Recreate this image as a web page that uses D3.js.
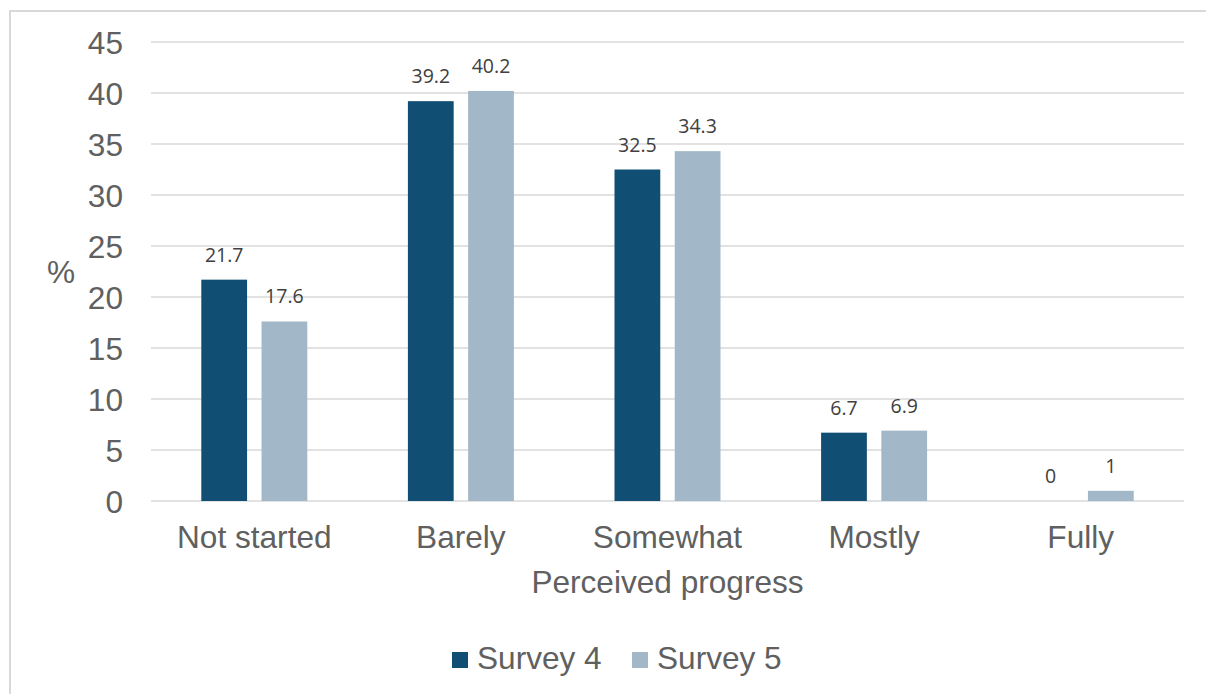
<!DOCTYPE html>
<html>
<head>
<meta charset="utf-8">
<script src="https://cdn.jsdelivr.net/npm/d3@7"></script>
<style>
  html, body { margin: 0; padding: 0; background: #ffffff; }
  svg { display: block; }
</style>
</head>
<body>
<svg id="chart" width="1206" height="694"></svg>
<script>
// Perceived progress by survey round (%)
const categories = ["Not started", "Barely", "Somewhat", "Mostly", "Fully"];
const seriesNames = ["Survey 4", "Survey 5"];
const survey4 = [21.7, 39.2, 32.5, 6.7, 0];
const survey5 = [17.6, 40.2, 34.3, 6.9, 1];
const yTicks = [0, 5, 10, 15, 20, 25, 30, 35, 40, 45];
const colors = ["#114e73", "#a2b8c8"];

const rows = categories.map((c, i) => ({ category: c, values: [survey4[i], survey5[i]] }));

const svg = d3.select("#chart");
const axisFont = "'Liberation Sans', Arial, sans-serif";
const labelFont = "'Open Sans', 'Noto Sans', sans-serif";
const textGray = "#606060";
const axisSize = 31.6;

// outer frame
svg.append("rect")
  .attr("x", 10).attr("y", 11)
  .attr("width", 1220).attr("height", 700)
  .attr("fill", "none").attr("stroke", "#d9d9d9").attr("stroke-width", 2);

const plot = { left: 151, right: 1184, top: 42, bottom: 501 };

const x0 = d3.scaleBand().domain(categories).range([plot.left, plot.right]).paddingInner(0).paddingOuter(0);
const groupW = 106;
const x1 = d3.scaleBand().domain(seriesNames).range([0, groupW]).paddingInner(0.24);
const y = d3.scaleLinear().domain([0, 45]).range([plot.bottom, plot.top]);

// gridlines
svg.append("g").selectAll("line").data(yTicks).join("line")
  .attr("x1", plot.left).attr("x2", plot.right)
  .attr("y1", d => y(d)).attr("y2", d => y(d))
  .attr("stroke", "#d9d9d9").attr("stroke-width", 1.5);

// y axis tick labels
const yAxis = d3.axisLeft(y).tickValues(yTicks).tickSize(0).tickPadding(0);
const gy = svg.append("g").attr("transform", "translate(123,0)").call(yAxis);
gy.select(".domain").remove();
gy.selectAll("text")
  .attr("font-family", axisFont).attr("font-size", axisSize).attr("fill", textGray)
  .attr("dy", "0.36em");

// bars
const groups = svg.append("g").selectAll("g").data(rows).join("g")
  .attr("transform", d => `translate(${x0(d.category) + (x0.bandwidth() - groupW) / 2},0)`);

groups.selectAll("rect")
  .data(d => d.values.map((v, i) => ({ key: seriesNames[i], value: v, i })))
  .join("rect")
  .filter(d => d.value > 0)
  .attr("x", d => x1(d.key))
  .attr("width", x1.bandwidth())
  .attr("y", d => y(d.value))
  .attr("height", d => y(0) - y(d.value))
  .attr("fill", d => colors[d.i]);

// value labels
groups.selectAll("text.val")
  .data(d => d.values.map((v, i) => ({ key: seriesNames[i], value: v })))
  .join("text")
  .attr("class", "val")
  .attr("x", d => x1(d.key) + x1.bandwidth() / 2)
  .attr("y", d => y(d.value) - 18)
  .attr("text-anchor", "middle")
  .attr("font-family", labelFont).attr("font-size", 19.5).attr("fill", "#404040")
  .text(d => d.value);

// x axis category labels
const xAxis = d3.axisBottom(x0).tickSize(0).tickPadding(0);
const gx = svg.append("g").attr("transform", "translate(0,548)").call(xAxis);
gx.select(".domain").remove();
gx.selectAll("text")
  .attr("font-family", axisFont).attr("font-size", axisSize).attr("fill", textGray)
  .attr("dy", 0);

// axis titles
svg.append("text")
  .attr("x", (plot.left + plot.right) / 2).attr("y", 593)
  .attr("text-anchor", "middle")
  .attr("font-family", axisFont).attr("font-size", axisSize).attr("fill", textGray)
  .text("Perceived progress");

svg.append("text")
  .attr("x", 61).attr("y", 283)
  .attr("text-anchor", "middle")
  .attr("font-family", axisFont).attr("font-size", axisSize).attr("fill", textGray)
  .text("%");

// legend
const legendItems = [
  { name: seriesNames[0], color: colors[0], x: 452 },
  { name: seriesNames[1], color: colors[1], x: 632 }
];
const lg = svg.append("g").selectAll("g").data(legendItems).join("g")
  .attr("transform", d => `translate(${d.x},0)`);
lg.append("rect").attr("x", 0).attr("y", 652).attr("width", 16).attr("height", 16)
  .attr("fill", d => d.color);
lg.append("text").attr("x", 25).attr("y", 669)
  .attr("font-family", axisFont).attr("font-size", axisSize).attr("fill", textGray)
  .text(d => d.name);
</script>
</body>
</html>
